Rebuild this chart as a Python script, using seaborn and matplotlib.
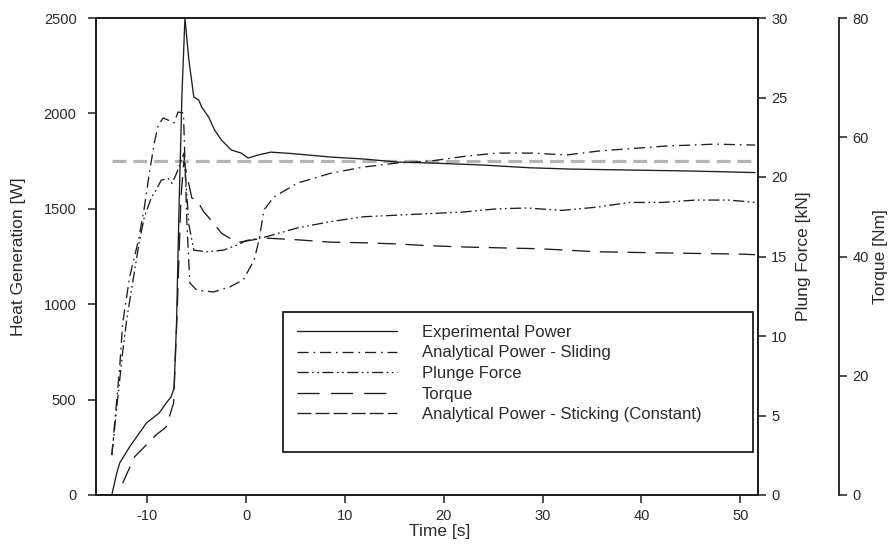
import matplotlib
matplotlib.use("Agg")
import matplotlib.pyplot as plt
import seaborn as sns
from matplotlib.lines import Line2D
from matplotlib.patches import Rectangle

# ---- data -------------------------------------------------------------
time_exp = [-13.6, -13.1, -12.8, -11.8, -10.1, -8.8, -8.1, -7.6, -7.3, -7.05,
            -6.8, -6.5, -6.2, -5.8, -5.3, -4.8, -4.5, -3.8, -3.2, -2.5, -1.5,
            -0.5, 0.2, 1.2, 2.5, 4.5, 8.6, 11.9, 15.3, 18.6, 23.7, 28.7, 33.0,
            39.0, 45.0, 51.5]
power_exp = [0, 115, 168, 252, 377, 430, 482, 514, 560, 900,
             1500, 2100, 2500, 2280, 2086, 2070, 2033, 1981, 1913, 1860, 1808,
             1792, 1766, 1782, 1797, 1790, 1771, 1761, 1745, 1740, 1730, 1715, 1708,
             1703, 1698, 1690]

time_slide = [-13.6, -13.1, -12.8, -12.5, -11.8, -10.9, -10.3, -9.8, -9.3, -8.9,
              -8.4, -7.9, -7.3, -6.9, -6.35, -6.0, -5.7, -5.0, -3.3, -1.7, -0.3,
              0.8, 1.3, 1.8, 2.8, 5.2, 8.6, 11.9, 15.3, 18.6, 22.4, 25.4, 29.0,
              32.4, 35.7, 42.5, 47.5, 51.5]
power_slide = [210, 498, 671, 900, 1142, 1336, 1509, 1688, 1845, 1939,
               1976, 1965, 1950, 2007, 2002, 1425, 1111, 1074, 1064, 1090, 1127,
               1231, 1336, 1494, 1562, 1635, 1687, 1719, 1740, 1750, 1777, 1792, 1792,
               1782, 1803, 1829, 1839, 1834]

time_plunge = [-13.6, -13.1, -12.5, -12.1, -11.4, -10.8, -10.3, -9.6, -9.1, -8.6,
               -7.9, -7.5, -7.0, -6.6, -6.3, -5.8, -5.3, -4.0, -2.3, -1.0, 0.0,
               1.8, 5.2, 8.6, 11.9, 15.3, 18.6, 22.0, 25.4, 28.4, 32.0, 35.4, 38.8,
               42.1, 45.5, 48.8, 51.6]
force_plunge = [2.5, 5.5, 9.0, 11.0, 13.7, 16.0, 17.5, 18.7, 19.2, 19.8,
                19.9, 19.6, 20.3, 21.0, 21.5, 17.0, 15.4, 15.3, 15.4, 15.7, 16.0,
                16.2, 16.8, 17.2, 17.5, 17.6, 17.7, 17.8, 18.0, 18.05, 17.9, 18.1, 18.4,
                18.4, 18.55, 18.55, 18.4]

time_torque = [-12.5, -11.3, -9.1, -8.1, -7.35, -7.0, -6.6, -6.3, -5.5, -5.0,
               -4.3, -3.3, -2.5, -1.7, -0.7, 1.8, 5.2, 8.6, 11.9, 15.3, 18.6,
               22.0, 27.0, 29.7, 35.4, 42.1, 50.2, 51.5]
torque = [2.0, 6.4, 10.1, 11.4, 15.4, 30.0, 50.0, 56.0, 49.8, 49.5,
          47.5, 45.6, 43.9, 43.1, 42.4, 43.1, 42.8, 42.4, 42.3, 42.1, 41.8,
          41.6, 41.4, 41.3, 40.8, 40.6, 40.4, 40.3]

time_stick = [-13.6, 51.7]
power_stick = [1750, 1750]

series_labels = ["Experimental Power", "Analytical Power - Sliding",
                 "Plunge Force", "Torque",
                 "Analytical Power - Sticking (Constant)"]

time_ticks = [-10, 0, 10, 20, 30, 40, 50]
power_ticks = [0, 500, 1000, 1500, 2000, 2500]
force_ticks = [0, 5, 10, 15, 20, 25, 30]
torque_ticks = [0, 20, 40, 60, 80]

# ---- styling ----------------------------------------------------------
sns.set_theme(style="ticks")
plt.rcParams["font.family"] = ["Liberation Sans", "DejaVu Sans"]
plt.rcParams["axes.unicode_minus"] = False
plt.rcParams["lines.scale_dashes"] = False

INK = "#1e1e1e"
TXT = "#2a2a2a"
GREY = "#b4b4b4"
LW = 0.95
TICK_FS = 10.5
LABEL_FS = 12.5

ls_exp = "-"
ls_slide = (0, (8, 3.5, 1.2, 3.5))
ls_plunge = (0, (8, 2.5, 1.2, 2.5, 1.2, 2.5))
ls_torque = (0, (13, 7))
ls_stick = (0, (10, 5))

W_PX, H_PX = 894, 548
fig = plt.figure(figsize=(W_PX / 100, H_PX / 100), dpi=100)
left, right, top, bottom = 96, 758, 18, 495
ax = fig.add_axes([left / W_PX, 1 - bottom / H_PX,
                   (right - left) / W_PX, (bottom - top) / H_PX])
ax_f = ax.twinx()
ax_t = ax.twinx()
ax_t.spines["right"].set_position(("axes", (839 - left) / (right - left)))
for s in ("top", "left", "bottom"):
    ax_t.spines[s].set_visible(False)

# ---- curves -----------------------------------------------------------
sns.lineplot(x=time_stick, y=power_stick, ax=ax, color=GREY, lw=2.3,
             linestyle=ls_stick, estimator=None, sort=False)
sns.lineplot(x=time_exp, y=power_exp, ax=ax, color=INK, lw=LW,
             linestyle=ls_exp, estimator=None, sort=False)
sns.lineplot(x=time_slide, y=power_slide, ax=ax, color=INK, lw=LW,
             linestyle=ls_slide, estimator=None, sort=False)
sns.lineplot(x=time_plunge, y=force_plunge, ax=ax_f, color=INK, lw=LW,
             linestyle=ls_plunge, estimator=None, sort=False)
sns.lineplot(x=time_torque, y=torque, ax=ax_t, color=INK, lw=LW,
             linestyle=ls_torque, estimator=None, sort=False)

# ---- axes -------------------------------------------------------------
ax.set_xlim(-15.2, 51.8)
ax.set_ylim(0, 2500)
ax_f.set_ylim(0, 30)
ax_t.set_ylim(0, 80)
ax.set_xticks(time_ticks)
ax.set_yticks(power_ticks)
ax_f.set_yticks(force_ticks)
ax_t.set_yticks(torque_ticks)

for a in (ax, ax_f, ax_t):
    a.tick_params(direction="out", length=6, width=1.1, colors=INK,
                  labelcolor=TXT, labelsize=TICK_FS, pad=3.5)
    for sp in a.spines.values():
        sp.set_color(INK)
        sp.set_linewidth(1.3)
ax.tick_params(axis="y", pad=8)
ax.tick_params(axis="x", pad=4)

ax.set_xlabel("Time [s]", fontsize=LABEL_FS, color=TXT)
ax.xaxis.set_label_coords((440 - left) / (right - left),
                          -(524 - bottom) / (bottom - top))
ax.set_ylabel("Heat Generation [W]", fontsize=LABEL_FS, color=TXT)
ax.yaxis.set_label_coords(-(left - 26) / (right - left), 0.5)
ax_f.set_ylabel("Plung Force [kN]", fontsize=LABEL_FS, color=TXT)
ax_f.yaxis.set_label_coords((796 - left) / (right - left), 0.5)
ax_t.set_ylabel("Torque [Nm]", fontsize=LABEL_FS, color=TXT)
ax_t.yaxis.set_label_coords((873 - left) / (right - left), 0.5)

# ---- legend -----------------------------------------------------------
handles = [Line2D([], [], color=INK, lw=LW, linestyle=ls_exp),
           Line2D([], [], color=INK, lw=LW, linestyle=ls_slide),
           Line2D([], [], color=INK, lw=LW, linestyle=ls_plunge),
           Line2D([], [], color=INK, lw=LW, linestyle=(0, (16, 8))),
           Line2D([], [], color=INK, lw=LW, linestyle=(0, (10, 3)))]
leg_fs = 12
fig.legend(handles, series_labels, loc="upper left",
           bbox_to_anchor=(297 / W_PX, 1 - 325 / H_PX),
           frameon=False, fontsize=leg_fs, labelcolor=TXT,
           handlelength=72 / leg_fs, handletextpad=18 / leg_fs,
           labelspacing=0.33, borderpad=0, borderaxespad=0)
fig.add_artist(Rectangle((283 / W_PX, 1 - 452 / H_PX),
                         (753 - 283) / W_PX, (452 - 312) / H_PX,
                         transform=fig.transFigure, fill=False,
                         edgecolor=INK, lw=1.3))

fig.savefig("out.png", dpi=100)
